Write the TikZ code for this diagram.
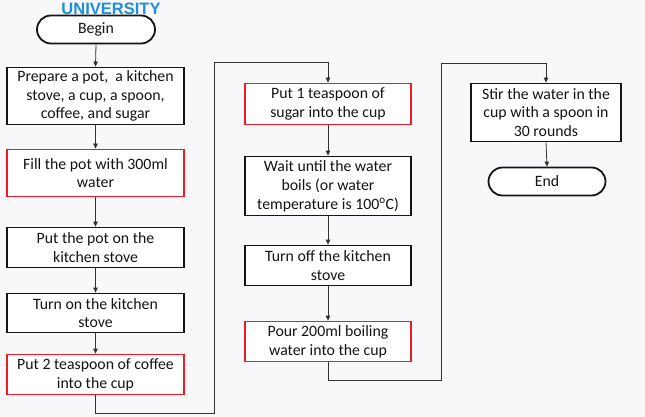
\documentclass[tikz,border=0pt]{standalone}
\usepackage{fontspec}
\setmainfont{Carlito}
\newfontfamily\logofont{Liberation Sans}
\usepackage{xcolor}
\definecolor{flowRed}{RGB}{237, 28, 36}
\definecolor{flowDark}{RGB}{20, 20, 20}
\definecolor{flowLine}{RGB}{50, 50, 50}
\definecolor{flowBack}{RGB}{248, 247, 250}
\definecolor{logoBlue}{RGB}{30, 144, 215}
\usepackage{tikz}
\usetikzlibrary{
    arrows.meta,
    positioning,
    calc
}

\begin{document}
\begin{tikzpicture}[
    x=1pt, y=-1pt,
    stepBox/.style={
        rectangle, draw=flowDark, line width=1.8pt,
        fill=white, text=flowDark,
        font=\fontsize{15.8}{18.8}\selectfont, align=center,
        inner sep=2pt, minimum width=177pt
    },
    stepRed/.style={
        stepBox, draw=flowRed
    },
    termBox/.style={
        stepBox, rounded corners=14pt,
        minimum width=118pt, minimum height=28pt
    },
    logoText/.style={
        font=\logofont\fontsize{16.5}{16.5}\selectfont\bfseries, text=logoBlue, anchor=base
    },
    flowArrow/.style={
        -{Triangle[length=5pt, width=4.5pt]}, line width=0.8pt, draw=flowLine
    }
]

    % Canvas
    \fill[flowBack] (0,0) rectangle (645,417);
    \useasboundingbox (0,0) rectangle (645,417);
    \begin{scope}
        \clip (0,0) rectangle (645,417);
        \node[logoText] (logo) at (111,15) {UNIVERSITY};
    \end{scope}

    % Column 1
    \node[termBox] (begin) at (96,29.5) {Begin};
    \node[stepBox, minimum height=57pt] (c1_1) at (95.5,96) {Prepare a pot, \ a kitchen\\stove, a cup, a spoon,\\coffee, and sugar};
    \node[stepRed, minimum height=47pt] (c1_2) at (95.5,173) {Fill the pot with 300ml\\water};
    \node[stepBox, minimum height=40pt] (c1_3) at (95.5,247.5) {Put the pot on the\\kitchen stove};
    \node[stepBox, minimum height=39pt] (c1_4) at (95.5,313) {Turn on the kitchen\\stove};
    \node[stepRed, minimum height=40pt] (c1_5) at (95.5,374.5) {Put 2 teaspoon of coffee\\into the cup};

    % Column 2
    \node[stepRed, minimum width=166pt, minimum height=41pt] (c2_1) at (328,104) {Put 1 teaspoon of\\sugar into the cup};
    \node[stepBox, minimum width=166pt, minimum height=59pt] (c2_2) at (328,186) {Wait until the water\\boils (or water\\temperature is 100\textsuperscript{o}C)};
    \node[stepBox, minimum width=166pt, minimum height=40pt] (c2_3) at (328,265.5) {Turn off the kitchen\\stove};
    \node[stepRed, minimum width=166pt, minimum height=40pt] (c2_4) at (328,341.5) {Pour 200ml boiling\\water into the cup};

    % Column 3
    \node[stepBox, minimum width=150pt, minimum height=58pt] (c3_1) at (546,112.5) {Stir the water in the\\cup with a spoon in\\30 rounds};
    \node[termBox, minimum width=117pt] (end) at (547,181.5) {End};

    % Bends between columns
    \coordinate (b1) at (214,413);
    \coordinate (b2) at (214,62);
    \coordinate (b3) at (441,380);
    \coordinate (b4) at (441,63);

    % Flow
    \draw[flowArrow] (begin.south) -- (c1_1.north);
    \draw[flowArrow] (c1_1.south) -- (c1_2.north);
    \draw[flowArrow] (c1_2.south) -- (c1_3.north);
    \draw[flowArrow] (c1_3.south) -- (c1_4.north);
    \draw[flowArrow] (c1_4.south) -- (c1_5.north);
    \draw[flowArrow] (c1_5.south) |- (b1) -- (b2) -| (c2_1.north);
    \draw[flowArrow] (c2_1.south) -- (c2_2.north);
    \draw[flowArrow] (c2_2.south) -- (c2_3.north);
    \draw[flowArrow] (c2_3.south) -- (c2_4.north);
    \draw[flowArrow] (c2_4.south) |- (b3) -- (b4) -| (c3_1.north);
    \draw[flowArrow] (c3_1.south) -- (end.north);

\end{tikzpicture}
\end{document}
